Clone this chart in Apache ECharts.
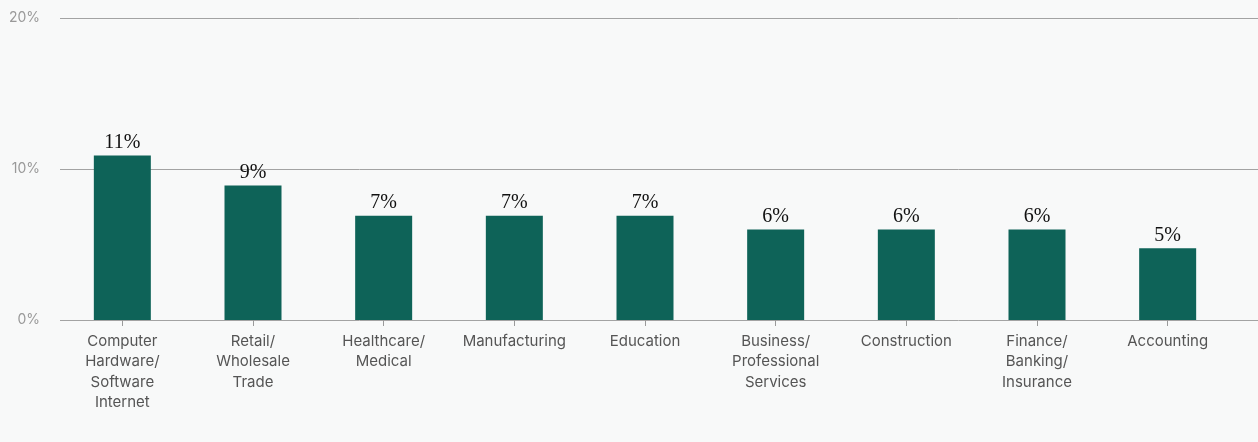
<!DOCTYPE html>
<html>
<head>
<meta charset="utf-8">
<script src="https://cdn.jsdelivr.net/npm/echarts@6/dist/echarts.min.js"></script>
<style>
  html, body { margin: 0; padding: 0; background: #f8f9f9; }
  #chart { width: 1258px; height: 442px; }
</style>
</head>
<body>
<div id="chart"></div>
<script>
// Share of respondents by industry
const categories = [
  'Computer\nHardware/\nSoftware\nInternet',
  'Retail/\nWholesale\nTrade',
  'Healthcare/\nMedical',
  'Manufacturing',
  'Education',
  'Business/\nProfessional\nServices',
  'Construction',
  'Finance/\nBanking/\nInsurance',
  'Accounting'
];
const shares = [10.9, 8.9, 6.9, 6.9, 6.9, 6.0, 6.0, 6.0, 4.75];
const yTicks = [0, 10, 20];

const chart = echarts.init(document.getElementById('chart'));
const gridTop = 18, gridBottom = 122;

chart.setOption({
  backgroundColor: '#f8f9f9',
  animation: false,
  grid: [
    // bars
    { left: 57, right: 25, top: gridTop, bottom: gridBottom },
    // full-width value gridlines
    { left: 60, right: 0, top: gridTop, bottom: gridBottom }
  ],
  xAxis: [
    {
      type: 'category', gridIndex: 0, data: categories,
      axisLine: { show: false },
      axisTick: { show: true, alignWithLabel: true, length: 6, lineStyle: { color: '#9a9a9a' } },
      axisLabel: {
        interval: 0, margin: 11, color: '#555', fontSize: 15, lineHeight: 20.5,
        fontFamily: 'Inter, "Noto Sans", sans-serif', fontWeight: 400
      }
    },
    { type: 'category', gridIndex: 1, data: [''], show: false }
  ],
  yAxis: [
    { type: 'value', gridIndex: 0, min: yTicks[0], max: yTicks[yTicks.length - 1], interval: 10, show: false },
    {
      type: 'value', gridIndex: 1, min: yTicks[0], max: yTicks[yTicks.length - 1], interval: 10,
      axisLine: { show: false }, axisTick: { show: false },
      splitLine: { lineStyle: { color: '#a3a3a3', width: 1 } },
      axisLabel: {
        margin: 20, color: '#999', fontSize: 14,
        fontFamily: 'Inter, "Noto Sans", sans-serif',
        formatter: v => v + '%'
      }
    }
  ],
  series: [{
    type: 'bar', xAxisIndex: 0, yAxisIndex: 0,
    data: shares, barWidth: 57,
    itemStyle: { color: '#0e6358' },
    label: {
      show: true, position: 'top', distance: 3,
      color: '#111', fontSize: 20,
      fontFamily: '"Liberation Serif", "DejaVu Serif", serif',
      formatter: p => Math.round(p.value) + '%'
    }
  }]
});
</script>
</body>
</html>
